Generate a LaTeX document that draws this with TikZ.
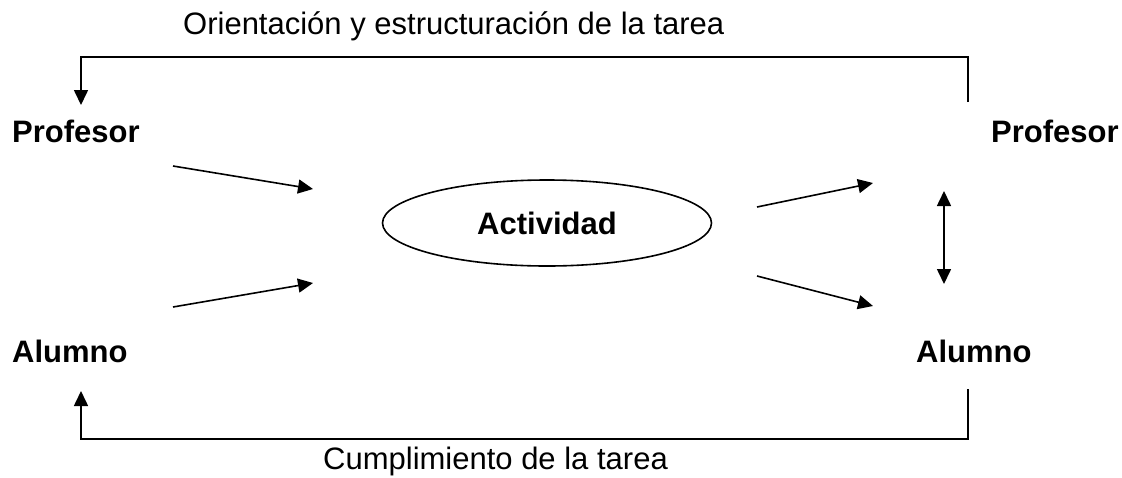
\documentclass[tikz,border=0pt]{standalone}
\usepackage{fontspec}
\setmainfont{Liberation Sans}
\usetikzlibrary{arrows.meta,shapes.geometric}
\begin{document}
\begin{tikzpicture}[x=1pt,y=-1pt,
  lbl/.style={inner sep=0pt,anchor=base west,font=\fontsize{31}{36}\selectfont},
  blbl/.style={lbl,font=\fontsize{31}{36}\selectfont\bfseries},
  conn/.style={line width=1.6pt,-{Triangle[length=15pt,width=14pt]}},
  plain/.style={line width=1.6pt}]
\useasboundingbox (0,0) rectangle (1122,477);
% labels
\node[lbl] (top) at (183,34) {Orientación y estructuración de la tarea};
\node[lbl] (bot) at (323,469) {Cumplimiento de la tarea};
\node[blbl] (profL) at (12,142) {Profesor};
\node[blbl] (alumL) at (12,362) {Alumno};
\node[blbl] (profR) at (991,142) {Profesor};
\node[blbl] (alumR) at (916,362) {Alumno};
\node[ellipse,draw,line width=1.6pt,minimum width=329pt,minimum height=86pt,inner sep=0pt,
      font=\fontsize{31}{36}\selectfont\bfseries] (act) at (547,223) {Actividad};
% coordinates for free ends
\coordinate (tl) at (81,57);
\coordinate (tr) at (968,57);
\coordinate (trs) at (968,102);
\coordinate (tle) at (81,105);
\coordinate (bl) at (81,439);
\coordinate (br) at (968,439);
\coordinate (brs) at (968,389);
\coordinate (ble) at (81,391);
\coordinate (a1s) at (173,166);
\coordinate (a1e) at (313,189);
\coordinate (a2s) at (173,307);
\coordinate (a2e) at (313,283);
\coordinate (a3s) at (757,207);
\coordinate (a3e) at (873,183);
\coordinate (a4s) at (757,276);
\coordinate (a4e) at (873,306);
\coordinate (d1) at (944,191);
\coordinate (d2) at (944,284);
% connectors
\draw[conn] (trs) -- (tr) -- (tl) -- (tle);
\draw[conn] (brs) -- (br) -- (bl) -- (ble);
\draw[conn] (a1s) -- (a1e);
\draw[conn] (a2s) -- (a2e);
\draw[conn] (a3s) -- (a3e);
\draw[conn] (a4s) -- (a4e);
\draw[line width=1.6pt,{Triangle[length=15pt,width=14pt]}-{Triangle[length=15pt,width=14pt]}] (d1) -- (d2);
\end{tikzpicture}
\end{document}
